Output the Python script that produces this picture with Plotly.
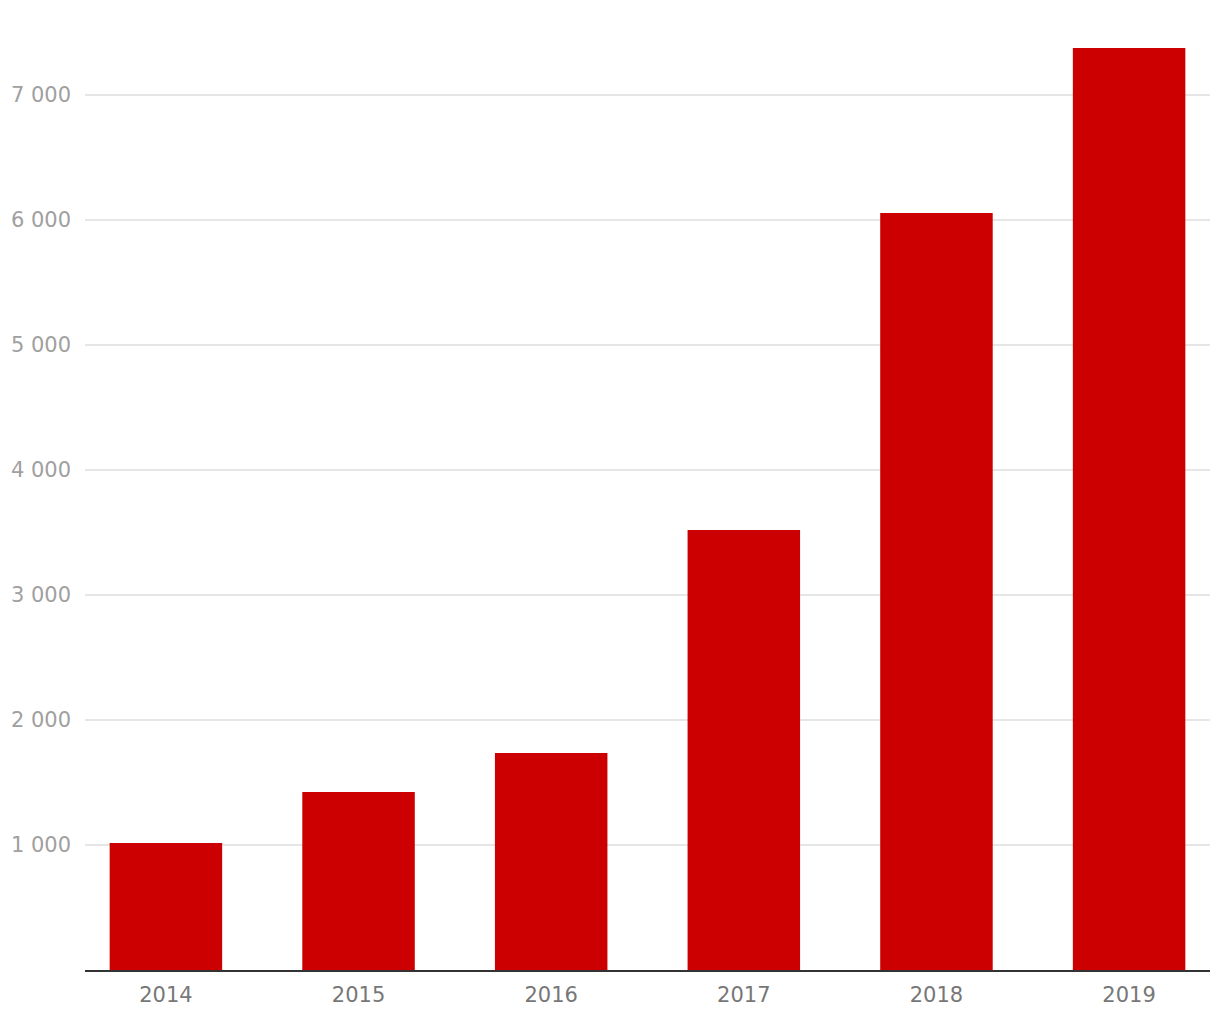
import plotly.graph_objects as go

years = ["2014", "2015", "2016", "2017", "2018", "2019"]
values = [1016, 1424, 1736, 3520, 6056, 7376]
y_tick_vals = [1000, 2000, 3000, 4000, 5000, 6000, 7000]
y_tick_text = ["1 000", "2 000", "3 000", "4 000", "5 000", "6 000", "7 000"]

fig = go.Figure(
    go.Bar(x=years, y=values, marker=dict(color="#cc0000", line=dict(width=0)), width=0.584)
)

fig.update_layout(
    width=1212,
    height=1012,
    margin=dict(l=77, r=10, t=0, b=50),
    paper_bgcolor="white",
    plot_bgcolor="white",
    showlegend=False,
    font=dict(family="DejaVu Sans, sans-serif"),
)

fig.update_xaxes(
    type="category",
    range=[-0.42, 5.42],
    showgrid=False,
    showline=True,
    linecolor="#333333",
    linewidth=2,
    ticks="",
    tickfont=dict(size=21, color="#777777"),
    ticklabelstandoff=5,
)

fig.update_yaxes(
    range=[0, 7696],
    tickvals=y_tick_vals,
    ticktext=y_tick_text,
    showgrid=True,
    gridcolor="#e6e6e6",
    gridwidth=1.5,
    zeroline=False,
    showline=False,
    ticks="",
    tickfont=dict(size=21, color="#a0a0a0"),
    ticklabelstandoff=13,
)

fig.write_html("out.html")
